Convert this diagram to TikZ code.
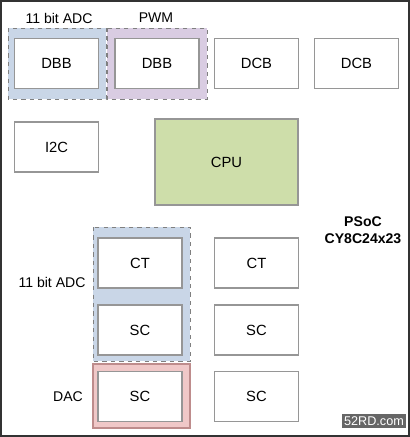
\documentclass[tikz,border=0pt]{standalone}
\usepackage{fontspec}
\setmainfont{Liberation Sans}
\begin{document}
\begin{tikzpicture}[x=0.025cm,y=-0.025cm]

\def\bw{2.1cm}
\def\bh{1.25cm}
\definecolor{adcblue}{RGB}{201,214,231}
\definecolor{pwmpurple}{RGB}{217,204,226}
\definecolor{cpugreen}{RGB}{206,222,170}
\definecolor{dacred}{RGB}{240,200,200}
\definecolor{dacline}{RGB}{190,140,140}
\definecolor{boxline}{RGB}{150,150,150}
\tikzstyle{block} = [
	draw=boxline, fill=white, rectangle, line width=0.8pt,
	minimum height=\bh, minimum width=\bw, font=\fontsize{10.5}{12}\selectfont ];
\tikzstyle{group} = [draw=gray, dashed, line width=0.7pt];
\tikzstyle{label} = [font=\fontsize{10}{12}\selectfont];

\useasboundingbox (0,0) rectangle (410,437);
\draw[black!80, line width=1.5pt] (1,1) rectangle (409,436);

% groups
\fill[adcblue] (8,28) rectangle (106,99);
\draw[group] (8,28) rectangle (106,99);
\fill[pwmpurple] (107,28) rectangle (207,99);
\draw[group] (107,28) rectangle (207,99);
\fill[adcblue] (93,227) rectangle (190,361);
\draw[group] (93,227) rectangle (190,361);
\draw[fill=dacred, draw=dacline, line width=0.8pt] (93,364) rectangle (190,428);

% top row
\node[block] (dbb1) at (56.5,63.5) {DBB};
\node[block] (dbb2) at (157,63.5) {DBB};
\node[block] (dcb1) at (256.5,63.5) {DCB};
\node[block] (dcb2) at (356.5,63.5) {DCB};
\node[label] (adc1) at (59,18) {11 bit ADC};
\node[label] (pwm) at (156,18) {PWM};

\node[block] (i2c) at (56.5,147) {I2C};
\node[block, fill=cpugreen, minimum width=3.575cm, minimum height=2.15cm] (cpu) at (226.5,162) {CPU};

\node[font=\bfseries\fontsize{10}{12}\selectfont, align=center] (psoc) at (363,230) {PSoC\\CY8C24x23};

% analog blocks
\node[block] (ct1) at (140,263) {CT};
\node[block] (ct2) at (256.5,263) {CT};
\node[block] (sc1) at (140,330) {SC};
\node[block] (sc2) at (256.5,330) {SC};
\node[block] (sc3) at (140,396.5) {SC};
\node[block] (sc4) at (256.5,396.5) {SC};
\node[label] (adc2) at (52,282) {11 bit ADC};
\node[label] (dac) at (68,397) {DAC};

\node[fill=black!60, text=white, inner sep=1.5pt, font=\fontsize{9}{10}\selectfont] (site) at (374,421) {52RD.com};

\end{tikzpicture}
\end{document}
